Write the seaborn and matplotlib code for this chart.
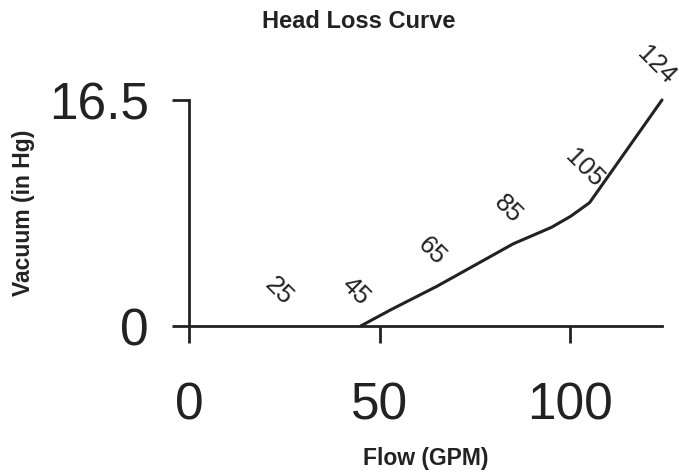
import matplotlib
matplotlib.use("Agg")
import matplotlib.pyplot as plt
import seaborn as sns

# --- data ---
# labelled flow points
label_flow = [25, 45, 65, 85, 105, 124]
label_vacuum = [0.0, 0.0, 2.9, 6.0, 9.0, 16.5]
# points
curve_flow = [45, 53, 65, 85, 95, 100, 105, 124]
curve_vacuum = [0.0, 1.2, 2.9, 6.0, 7.2, 8.0, 9.0, 16.5]
x_ticks = [0, 50, 100]
y_ticks = [0, 16.5]
y_tick_labels = ["0", "16.5"]

sns.set_style("ticks")
plt.rcParams["font.family"] = ["Liberation Sans", "DejaVu Sans"]

ink = "#222222"

fig = plt.figure(figsize=(6.79, 4.73), dpi=100)
ax = fig.add_axes([189 / 679, (473 - 326) / 473, (662 - 189) / 679, (326 - 100) / 473])

sns.lineplot(x=curve_flow, y=curve_vacuum, ax=ax, color=ink, linewidth=2.2,
             clip_on=False, solid_joinstyle="round")

# rotated flow labels above each point
for fx, vy in zip(label_flow, label_vacuum):
    ax.annotate(str(fx), (fx, vy), xytext=(-4, 25), textcoords="offset points",
                rotation=-45, ha="center", va="center", fontsize=18.5, color=ink,
                annotation_clip=False)

ax.set_xlim(0, 124)
ax.set_ylim(0, 16.5)
ax.set_xticks(x_ticks)
ax.set_yticks(y_ticks, labels=y_tick_labels)

sns.despine(ax=ax)
for side in ["left", "bottom"]:
    ax.spines[side].set_linewidth(2)
    ax.spines[side].set_color(ink)

ax.tick_params(direction="out", length=12, width=2, labelsize=37, color=ink, labelcolor=ink)
ax.tick_params(axis="x", pad=28)
ax.tick_params(axis="y", pad=17)

ax.set_xlabel("Flow (GPM)", fontsize=16.5, fontweight="bold", color=ink, va="center")
ax.set_ylabel("Vacuum (in Hg)", fontsize=16.5, fontweight="bold", color=ink, va="center")
ax.xaxis.set_label_coords(0.5, (326 - 458) / 226)
ax.yaxis.set_label_coords((24 - 189) / 473, 0.5)

fig.text(359 / 679, 1 - 22 / 473, "Head Loss Curve", ha="center", va="center",
         fontsize=17, fontweight="bold", color=ink)

fig.savefig("out.png", dpi=100)
